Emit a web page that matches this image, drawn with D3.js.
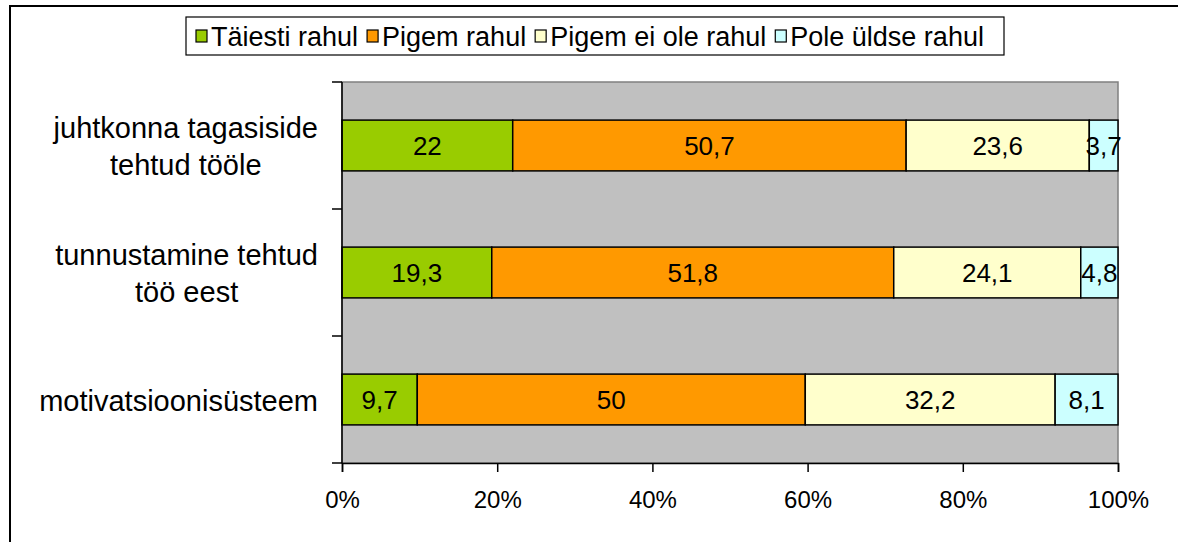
<!DOCTYPE html>
<html>
<head>
<meta charset="utf-8">
<script src="https://cdn.jsdelivr.net/npm/d3@7"></script>
<style>
  body { margin: 0; background: #fff; }
  svg { display: block; font-family: "Liberation Sans", Arial, sans-serif; }
</style>
</head>
<body>
<script>
// categories, top to bottom
var categories = [
  ["juhtkonna tagasiside", "tehtud tööle"],
  ["tunnustamine tehtud", "töö eest"],
  ["motivatsioonisüsteem"]
];
var seriesNames = ["Täiesti rahul", "Pigem rahul", "Pigem ei ole rahul", "Pole üldse rahul"];
var taiestiRahul = [22, 19.3, 9.7];
var pigemRahul = [50.7, 51.8, 50];
var pigemEiOle = [23.6, 24.1, 32.2];
var poleUldse = [3.7, 4.8, 8.1];
var xTicks = [0, 20, 40, 60, 80, 100];

var cols = ["#99cc00", "#ff9900", "#ffffcc", "#ccffff"];

var W = 1178, H = 542;
var svg = d3.select("body").append("svg")
  .attr("width", W)
  .attr("height", H);

// outer chart frame (runs off the right/bottom like the original)
svg.append("rect")
  .attr("x", 10).attr("y", 6)
  .attr("width", 1400).attr("height", 800)
  .attr("fill", "#fff")
  .attr("stroke", "#000")
  .attr("stroke-width", 2);

var plot = { left: 342, right: 1118, top: 82, bottom: 463 };

var x = d3.scaleLinear()
  .domain([0, 100])
  .range([plot.left, plot.right]);

var y = d3.scaleBand()
  .domain(d3.range(categories.length))
  .range([plot.top, plot.bottom])
  .paddingInner(0.6)
  .paddingOuter(0.3);

var yTicks = d3.scaleBand()
  .domain(d3.range(categories.length))
  .range([plot.top, plot.bottom]);

// plot background
svg.append("rect")
  .attr("x", plot.left).attr("y", plot.top)
  .attr("width", plot.right - plot.left)
  .attr("height", plot.bottom - plot.top)
  .attr("fill", "#c0c0c0")
  .attr("stroke", "#808080")
  .attr("stroke-width", 1.5);

// stacked data
var rows = categories.map(function (c, i) {
  var vals = [taiestiRahul[i], pigemRahul[i], pigemEiOle[i], poleUldse[i]];
  var acc = 0;
  return vals.map(function (v, j) {
    var seg = { row: i, s: j, v: v, x0: acc, x1: acc + v };
    acc += v;
    return seg;
  });
});

var seg = svg.append("g")
  .selectAll("g")
  .data(d3.merge(rows))
  .enter().append("g");

seg.append("rect")
  .attr("x", function (d) { return x(d.x0); })
  .attr("y", function (d) { return y(d.row); })
  .attr("width", function (d) { return x(d.x1) - x(d.x0); })
  .attr("height", y.bandwidth())
  .attr("fill", function (d) { return cols[d.s]; })
  .attr("stroke", "#000")
  .attr("stroke-width", 1.5);

function fmt(v) {
  return String(v).replace(".", ",");
}

seg.append("text")
  .attr("x", function (d) { return (x(d.x0) + x(d.x1)) / 2; })
  .attr("y", function (d) { return y(d.row) + y.bandwidth() / 2; })
  .attr("dy", "0.36em")
  .attr("text-anchor", "middle")
  .attr("font-size", 26)
  .attr("fill", "#000")
  .text(function (d) { return fmt(d.v); });

// left axis (category boundaries as ticks)
var leftAxis = svg.append("g");
leftAxis.append("line")
  .attr("x1", plot.left).attr("x2", plot.left)
  .attr("y1", plot.top).attr("y2", plot.bottom)
  .attr("stroke", "#000").attr("stroke-width", 1.5);
leftAxis.selectAll("line.tick")
  .data(d3.range(categories.length + 1))
  .enter().append("line")
  .attr("class", "tick")
  .attr("x1", plot.left - 10).attr("x2", plot.left)
  .attr("y1", function (d) { return d < categories.length ? yTicks(d) : plot.bottom; })
  .attr("y2", function (d) { return d < categories.length ? yTicks(d) : plot.bottom; })
  .attr("stroke", "#000").attr("stroke-width", 1.5);

// category labels: block right-aligned, lines centred in block
var labelRight = 318;
var lab = svg.append("g")
  .selectAll("text")
  .data(categories)
  .enter().append("text")
  .attr("font-size", 29)
  .attr("fill", "#000")
  .attr("text-anchor", "middle");

lab.each(function (lines, i) {
  var t = d3.select(this);
  var lh = 37;
  var cy = yTicks(i) + yTicks.bandwidth() / 2 + 1;
  var y0 = cy - (lines.length - 1) * lh / 2;
  var spans = lines.map(function (l, k) {
    return t.append("tspan").attr("x", 0).attr("y", y0 + k * lh).attr("dy", "0.35em").text(l);
  });
  var w = d3.max(spans, function (s) { return s.node().getComputedTextLength(); });
  spans.forEach(function (s) { s.attr("x", labelRight - w / 2); });
});

// bottom axis
var xAxis = svg.append("g")
  .attr("transform", "translate(0," + plot.bottom + ")")
  .call(d3.axisBottom(x)
    .tickValues(xTicks)
    .tickSize(9)
    .tickPadding(19)
    .tickFormat(function (d) { return d + "%"; }));
xAxis.select(".domain")
  .attr("stroke", "#000").attr("stroke-width", 1.5);
xAxis.selectAll(".tick line").attr("stroke", "#000").attr("stroke-width", 1.5);
xAxis.selectAll(".tick text")
  .attr("font-size", 24)
  .attr("font-family", "Liberation Sans, Arial, sans-serif")
  .attr("fill", "#000");

// legend
var legend = svg.append("g");
legend.append("rect")
  .attr("x", 186).attr("y", 17)
  .attr("width", 818).attr("height", 38)
  .attr("fill", "#fff")
  .attr("stroke", "#000")
  .attr("stroke-width", 1.2);

var lx = 196;
seriesNames.forEach(function (name, i) {
  var g = legend.append("g").attr("transform", "translate(" + lx + ",36)");
  g.append("rect")
    .attr("x", 0).attr("y", -6)
    .attr("width", 11).attr("height", 12)
    .attr("fill", cols[i])
    .attr("stroke", "#000").attr("stroke-width", 1.2);
  var t = g.append("text")
    .attr("x", 15).attr("dy", "0.36em")
    .attr("font-size", 27)
    .attr("fill", "#000")
    .text(name);
  lx += 15 + t.node().getComputedTextLength() + 9;
});
</script>
</body>
</html>
